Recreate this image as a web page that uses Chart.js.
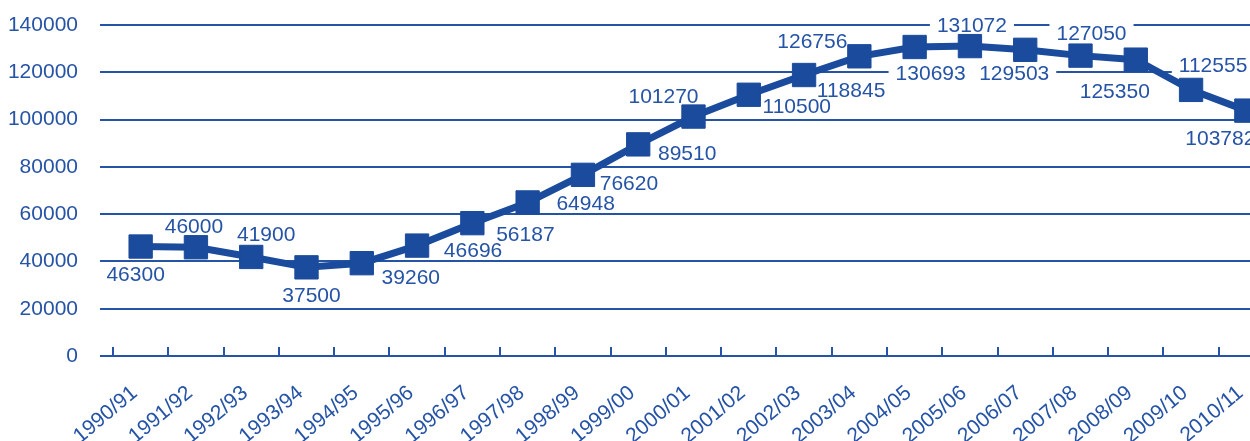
<!DOCTYPE html>
<html>
<head>
<meta charset="utf-8">
<script src="https://cdn.jsdelivr.net/npm/chart.js@4/dist/chart.umd.min.js"></script>
<style>
  html, body { margin: 0; padding: 0; overflow: hidden; background: #fff; }
  #wrap { position: relative; width: 1290px; height: 441px; }
</style>
</head>
<body>
<div id="wrap"><canvas id="seasonChart"></canvas></div>
<script>
// Seasons and values
const seasons = [
  "1990/91", "1991/92", "1992/93", "1993/94", "1994/95", "1995/96", "1996/97",
  "1997/98", "1998/99", "1999/00", "2000/01", "2001/02", "2002/03", "2003/04",
  "2004/05", "2005/06", "2006/07", "2007/08", "2008/09", "2009/10", "2010/11"
];
const totals = [
  46300, 46000, 41900, 37500, 39260, 46696, 56187,
  64948, 76620, 89510, 101270, 110500, 118845, 126756,
  130693, 131072, 129503, 127050, 125350, 112555, 103782
];
const yTicks = [0, 20000, 40000, 60000, 80000, 100000, 120000, 140000];

// where each value label sits relative to its marker (dx, dy)
const labelOffsets = [
  [-5, 27], [-2, -22], [15, -23], [5, 27], [49, 13], [56, 4], [53, 10],
  [58, 0], [46, 8], [49, 8], [-30, -21], [48, 11], [47, 14], [-47, -16],
  [16, 25], [2, -22], [-11, 23], [11, -23], [-21, 31], [22, -25], [-26, 27]
];

const blue = "#1a4b9c";
const textBlue = "#2553a6";
const FONT = "'Liberation Sans', Arial, sans-serif";

// value labels: white boxes first (they cut the gridlines), then the text
const valueLabels = {
  id: "valueLabels",
  beforeDatasetsDraw(chart) {
    const ctx = chart.ctx;
    const pts = chart.getDatasetMeta(0).data;
    ctx.save();
    ctx.font = "21px " + FONT;
    ctx.textAlign = "center";
    ctx.textBaseline = "alphabetic";
    const items = pts.map(function (p, i) {
      const txt = String(totals[i]);
      return {
        txt: txt,
        cx: p.x + labelOffsets[i][0],
        cy: p.y + labelOffsets[i][1],
        w: ctx.measureText(txt).width,
      };
    });
    ctx.fillStyle = "#fff";
    items.forEach(function (it) {
      ctx.fillRect(it.cx - it.w / 2 - 7, it.cy - 9, it.w + 14, 18);
    });
    ctx.fillStyle = textBlue;
    items.forEach(function (it) {
      ctx.fillText(it.txt, it.cx, it.cy + 7.5);
    });
    ctx.restore();
  }
};

// small upward tick marks between the categories
const categoryTicks = {
  id: "categoryTicks",
  beforeDatasetsDraw(chart) {
    const x = chart.scales.x;
    const y0 = chart.scales.y.getPixelForValue(0);
    const half = (x.getPixelForValue(1) - x.getPixelForValue(0)) / 2;
    const ctx = chart.ctx;
    ctx.save();
    ctx.strokeStyle = textBlue;
    ctx.lineWidth = 2;
    ctx.beginPath();
    for (let i = 0; i < seasons.length; i++) {
      const px = Math.round(x.getPixelForValue(i) - half);
      ctx.moveTo(px, y0 - 9);
      ctx.lineTo(px, y0);
    }
    ctx.stroke();
    ctx.restore();
  }
};

const ctx = document.getElementById("seasonChart").getContext("2d");
const seasonChart = new Chart(ctx, {
  type: "line",
  data: {
    labels: seasons,
    datasets: [
      {
        data: totals,
        borderColor: blue,
        borderWidth: 7,
        tension: 0,
        pointStyle: "rect",
        pointRadius: 16.5,
        pointHoverRadius: 16.5,
        pointBackgroundColor: blue,
        pointBorderColor: blue,
        pointBorderWidth: 1,
        clip: false,
      },
    ],
  },
  options: {
    responsive: true,
    maintainAspectRatio: false,
    animation: false,
    layout: {
      autoPadding: false,
      padding: { top: 25, right: 16, left: 0, bottom: 0 },
    },
    scales: {
      x: {
        offset: true,
        grid: { display: false },
        border: { display: false },
        afterFit: function (scale) {
          scale.height = 85;
        },
        ticks: {
          autoSkip: false,
          minRotation: 40,
          maxRotation: 40,
          padding: 24,
          labelOffset: -6,
          color: textBlue,
          font: { family: FONT, size: 21, lineHeight: 0.3 },
        },
      },
      y: {
        min: 0,
        max: 140000,
        afterFit: function (scale) {
          scale.width = 113;
          // tick padding would otherwise push the plot top down
          scale.paddingTop = 0;
          scale.paddingBottom = 0;
        },
        afterBuildTicks: function (scale) {
          scale.ticks = yTicks.map(function (v) {
            return { value: v };
          });
        },
        grid: {
          color: textBlue,
          lineWidth: 2,
          drawTicks: true,
          tickLength: 13,
        },
        border: { display: false },
        ticks: {
          padding: 22,
          color: textBlue,
          font: { family: FONT, size: 21 },
          callback: function (value) {
            return String(value);
          },
        },
      },
    },
    plugins: {
      legend: { display: false },
      tooltip: { enabled: false },
    },
  },
  plugins: [categoryTicks, valueLabels],
});
</script>
</body>
</html>
